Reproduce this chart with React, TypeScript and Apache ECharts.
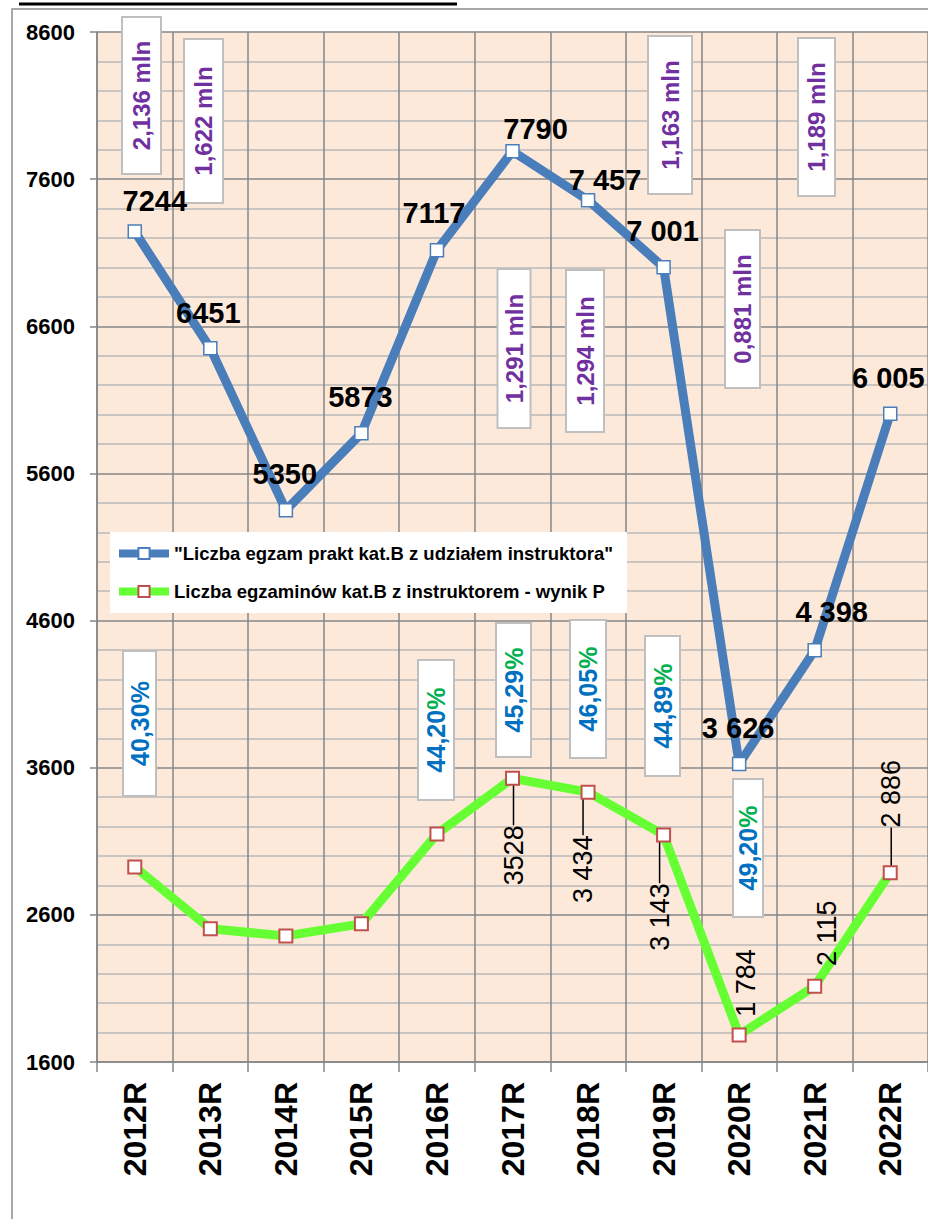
import React, { useEffect, useRef } from 'react';
import * as echarts from 'echarts';

const years = ['2012R', '2013R', '2014R', '2015R', '2016R', '2017R', '2018R', '2019R', '2020R', '2021R', '2022R'];
const examsWithInstructor = [7244, 6451, 5350, 5873, 7117, 7790, 7457, 7001, 3626, 4398, 6005];
const examsWithInstructorText = ['7244', '6451', '5350', '5873', '7117', '7790', '7 457', '7 001', '3 626', '4 398', '6 005'];
const examsPassed = [2926, 2505, 2457, 2539, 3150, 3528, 3434, 3143, 1784, 2115, 2886];
const examsPassedText = ['', '', '', '', '', '3528', '3 434', '3 143', '1 784', '2 115', '2 886'];
const examsPassedLeader = [false, false, false, false, false, true, true, true, false, false, true];
const yMin = 1600;
const yMax = 8600;
const yInterval = 1000;
const millionsText = ['2,136 mln', '1,622 mln', '1,291 mln', '1,294 mln', '1,163 mln', '0,881 mln', '1,189 mln'];
const passRateText = ['40,30', '44,20', '45,29', '46,05', '44,89', '49,20'];
const passRateGreenPercent = [false, true, true, true, true, true];

const seriesNames = [
  '"Liczba egzam prakt kat.B z udziałem instruktora"',
  'Liczba egzaminów kat.B z instruktorem - wynik P',
];

// label shifts (screen px) relative to marker centre
const blueShift = [[20, -31], [-2, -35], [-1, -36], [-1, -36], [-3, -37], [23, -22], [17, -20], [-1, -36], [-1, -36], [17, -38], [-2, -36]];
const greenShift = [[0, 0], [0, 0], [0, 0], [0, 0], [0, 0], [1, 77], [-5, 77], [-4, 82], [7, -52], [12, -53], [1, -79]];

// annotation boxes: [cx, cy, length, thickness]
const millionsBoxes = [[141.5, 95.5, 157, 39], [203.5, 121, 164, 39], [514, 348.5, 159, 33], [585, 351, 162, 38], [670, 115, 158, 44], [742.5, 309, 158, 35], [816.5, 117, 158, 37]];
const passRateBoxes = [[139.5, 723.5, 145, 33], [436, 730, 140, 36], [513.5, 690, 134, 35], [588, 689, 138, 36], [662.5, 706, 140, 35], [748, 848, 138, 30]];

const FONT = '"Liberation Sans", Arial, sans-serif';

function rotatedBox(cx: number, cy: number, len: number, th: number, text: string, rich: any, base: any) {
  return {
    type: 'group',
    x: cx,
    y: cy,
    rotation: Math.PI / 2,
    z: 1,
    children: [
      {
        type: 'rect',
        z: 1,
        shape: { x: -len / 2, y: -th / 2, width: len, height: th },
        style: { fill: '#ffffff', stroke: '#BFBFBF', lineWidth: 2 },
      },
      {
        type: 'text',
        z: 2,
        x: 0,
        y: 0,
        style: {
          text,
          rich,
          ...base,
          align: 'center',
          verticalAlign: 'middle',
        },
      },
    ],
  };
}

export default function App() {
  const ref = useRef<HTMLDivElement>(null);
  useEffect(() => {
    if (!ref.current) return;
    const chart = echarts.init(ref.current, null, { renderer: 'svg' });

    const mlnBase = { fontFamily: FONT, fontSize: 24, fontWeight: 'bold', fill: '#7030A0' };
    const pctBase = { fontFamily: FONT, fontSize: 25, fontWeight: 'bold', fill: '#0070C0' };
    const mlnRich = { p: { fontFamily: FONT, fontSize: 24, fontWeight: 'bold', fill: '#7030A0' } };
    const pctRich = {
      b: { fontFamily: FONT, fontSize: 25, fontWeight: 'bold', fill: '#0070C0' },
      g: { fontFamily: FONT, fontSize: 25, fontWeight: 'bold', fill: '#00B050' },
    };

    const graphics: any[] = [
      {
        type: 'rect',
        z: 0,
        shape: { x: 12, y: 9, width: 960, height: 1240 },
        style: { fill: 'none', stroke: '#8C8C8C', lineWidth: 1.5 },
      },
      {
        type: 'line',
        z: 0,
        shape: { x1: 19, y1: 4, x2: 457, y2: 4 },
        style: { stroke: '#000000', lineWidth: 3 },
      },
    ];
    millionsText.forEach((t, i) => {
      const [cx, cy, len, th] = millionsBoxes[i];
      graphics.push(rotatedBox(cx, cy, len, th, `{p|${t}}`, mlnRich, mlnBase));
    });
    passRateText.forEach((t, i) => {
      const [cx, cy, len, th] = passRateBoxes[i];
      const txt = passRateGreenPercent[i] ? `{b|${t}}{g|%}` : `{b|${t}%}`;
      graphics.push(rotatedBox(cx, cy, len, th, txt, pctRich, pctBase));
    });

    chart.setOption({
      animation: false,
      backgroundColor: '#ffffff',
      textStyle: { fontFamily: FONT },
      grid: {
        left: 97,
        top: 32,
        right: -5,
        bottom: 157,
        show: true,
        backgroundColor: '#FDE9D9',
        borderWidth: 0,
        containLabel: false,
      },
      legend: {
        orient: 'vertical',
        left: 110,
        top: 532,
        backgroundColor: '#ffffff',
        padding: [12, 14, 12, 5],
        itemGap: 19,
        itemWidth: 50,
        itemHeight: 14,
        lineStyle: { width: 8 },
        textStyle: { fontFamily: FONT, fontSize: 18.5, fontWeight: 'bold', color: '#000000' },
        data: seriesNames,
        z: 5,
      },
      xAxis: {
        type: 'category',
        data: years,
        boundaryGap: true,
        axisLine: { show: true, lineStyle: { color: '#868686', width: 1.5 } },
        axisTick: { show: true, length: 10, lineStyle: { color: '#868686', width: 1.5 } },
        splitLine: { show: true, lineStyle: { color: '#868686', width: 1.5 } },
        axisLabel: {
          rotate: 90,
          margin: 20,
          fontFamily: FONT,
          fontSize: 32,
          fontWeight: 'bold',
          color: '#000000',
        },
      },
      yAxis: {
        type: 'value',
        min: yMin,
        max: yMax,
        interval: yInterval,
        axisLine: { show: true, lineStyle: { color: '#868686', width: 1.5 } },
        axisTick: { show: true, length: 7, lineStyle: { color: '#868686', width: 1.5 } },
        splitLine: { show: true, lineStyle: { color: '#868686', width: 1.5 } },
        minorTick: { show: false, splitNumber: 5 },
        minorSplitLine: { show: true, lineStyle: { color: '#B8B8B8', width: 1.5 } },
        axisLabel: {
          margin: 22,
          fontFamily: FONT,
          fontSize: 22,
          fontWeight: 'bold',
          color: '#000000',
          formatter: (v: number) => String(v),
        },
      },
      series: [
        {
          name: seriesNames[0],
          type: 'line',
          z: 3,
          data: examsWithInstructor,
          symbol: 'rect',
          symbolSize: 13,
          lineStyle: { color: '#4A7EBB', width: 9 },
          itemStyle: { color: '#ffffff', borderColor: '#4A7EBB', borderWidth: 1.5 },
          label: {
            show: true,
            position: 'inside',
            fontFamily: FONT,
            fontSize: 29,
            fontWeight: 'bold',
            color: '#000000',
            formatter: (p: any) => examsWithInstructorText[p.dataIndex],
          },
          labelLayout: (p: any) => ({ dx: blueShift[p.dataIndex][0], dy: blueShift[p.dataIndex][1] }),
        },
        {
          name: seriesNames[1],
          type: 'line',
          z: 3,
          data: examsPassed.map((v, i) => ({
            value: v,
            label: { show: examsPassedText[i] !== '' },
            labelLine: { show: examsPassedLeader[i] },
          })),
          symbol: 'rect',
          symbolSize: 13,
          lineStyle: { color: '#66FF33', width: 9 },
          itemStyle: { color: '#ffffff', borderColor: '#C0504D', borderWidth: 2 },
          label: {
            show: true,
            position: 'inside',
            rotate: 90,
            padding: [0, 9, 0, 9],
            fontFamily: FONT,
            fontSize: 27,
            color: '#000000',
            formatter: (p: any) => examsPassedText[p.dataIndex],
          },
          labelLine: { show: true, lineStyle: { color: '#000000', width: 1.5 } },
          // label is rotated 90deg, so its shift is given in the rotated frame
          labelLayout: (p: any) => ({ dx: -greenShift[p.dataIndex][1], dy: greenShift[p.dataIndex][0] }),
        },
      ],
      graphic: graphics,
    });
    return () => chart.dispose();
  }, []);
  return <div ref={ref} style={{ position: 'absolute', left: 0, top: 0, width: 928, height: 1219 }} />;
}
